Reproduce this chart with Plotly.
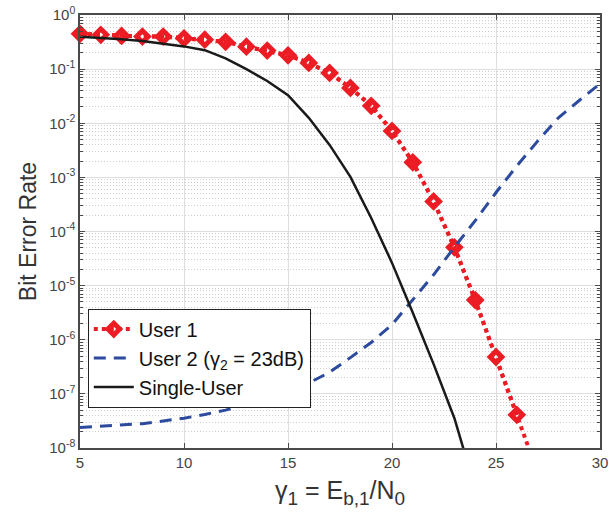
import plotly.graph_objects as go

# ---- data ----
x_user1 = [5, 6, 7, 8, 9, 10, 11, 12, 13, 14, 15, 16, 17, 18, 19, 20, 21, 22, 23, 24, 25, 26, 27]
ber_user1 = [0.45, 0.43, 0.41, 0.40, 0.40, 0.37, 0.35, 0.32, 0.26, 0.22, 0.18, 0.13,
             0.085, 0.045, 0.021, 7.2e-3, 1.9e-3, 3.6e-4, 5.1e-5, 5.4e-6, 4.8e-7, 4.1e-8, 3.5e-9]
n_markers_user1 = 22  # markers at 5..26 dB; the last point only continues the line off-axis

x_user2 = [5, 6, 7, 8, 9, 10, 11, 12, 13, 14, 15, 16, 17, 18, 19, 20, 21, 22, 23, 24, 25, 26, 27, 28, 29, 30]
log_ber_user2 = [-7.62, -7.60, -7.58, -7.55, -7.50, -7.45, -7.38, -7.30, -7.20, -7.08, -6.97, -6.80,
                 -6.60, -6.33, -6.05, -5.72, -5.27, -4.80, -4.29, -3.80, -3.28, -2.79, -2.33,
                 -1.90, -1.58, -1.27]

x_single = [5, 6, 7, 8, 9, 10, 11, 12, 13, 14, 15, 16, 17, 18, 19, 20, 21, 22, 23, 23.5]
log_ber_single = [-0.40, -0.42, -0.45, -0.48, -0.53, -0.58, -0.65, -0.80, -1.00, -1.22, -1.48,
                  -1.90, -2.40, -2.99, -3.75, -4.58, -5.50, -6.45, -7.45, -8.10]

x_ticks = [5, 10, 15, 20, 25, 30]
y_tick_vals = [1, 1e-1, 1e-2, 1e-3, 1e-4, 1e-5, 1e-6, 1e-7, 1e-8]
y_tick_text = ["10<sup>0</sup>", "10<sup>-1</sup>", "10<sup>-2</sup>", "10<sup>-3</sup>",
               "10<sup>-4</sup>", "10<sup>-5</sup>", "10<sup>-6</sup>", "10<sup>-7</sup>",
               "10<sup>-8</sup>"]

ber_user2 = [10 ** v for v in log_ber_user2]
ber_single = [10 ** v for v in log_ber_single]

RED = "#EC1C24"
BLUE = "#2D4B9E"
FONT = "Liberation Sans, Arial, Helvetica, sans-serif"
AX = "#4a4a4a"

fig = go.Figure()

# full dotted line of User 1 (clipped at the axes)
fig.add_trace(go.Scatter(
    x=x_user1, y=ber_user1, mode="lines", showlegend=False, hoverinfo="skip",
    line=dict(color=RED, width=4, dash="dot"),
))
# User 1 with markers (markers not clipped, like MATLAB)
fig.add_trace(go.Scatter(
    x=x_user1[:n_markers_user1], y=ber_user1[:n_markers_user1], mode="lines+markers",
    name="User 1",
    line=dict(color=RED, width=4, dash="dot"),
    marker=dict(symbol="diamond-open", size=9, color=RED, line=dict(color=RED, width=5)),
    cliponaxis=False,
))
fig.add_trace(go.Scatter(
    x=x_user2, y=ber_user2, mode="lines", name="User 2 (γ<sub>2</sub> = 23dB)",
    line=dict(color=BLUE, width=3, dash="12px,8px"),
))
fig.add_trace(go.Scatter(
    x=x_single, y=ber_single, mode="lines", name="Single-User",
    line=dict(color="#1a1a1a", width=2.5),
))

fig.update_layout(
    width=609, height=513,
    margin=dict(l=80, r=9, t=15, b=65, autoexpand=False),
    paper_bgcolor="white", plot_bgcolor="white",
    font=dict(family=FONT, color=AX, size=15),
    showlegend=True,
    legend=dict(
        x=0.015, y=0.322, xanchor="left", yanchor="top",
        bgcolor="white", bordercolor="#222", borderwidth=1,
        font=dict(family=FONT, size=20, color="#111"),
        tracegroupgap=0, itemwidth=40,
    ),
)

x_title = ("γ<sub><span style='font-size:19px'>1</span></sub> = "
           "E<sub><span style='font-size:19px'>b,1</span></sub>/"
           "N<sub><span style='font-size:19px'>0</span></sub>")

fig.update_xaxes(
    range=[5, 30], tickvals=x_ticks, ticks="inside", ticklen=5, tickcolor=AX,
    showline=True, linecolor=AX, linewidth=1.5, mirror="ticks", automargin=False,
    showgrid=True, gridcolor="#dedede", gridwidth=1, zeroline=False,
    tickfont=dict(size=15, color="#444"),
    title=dict(text=x_title, font=dict(size=25, color="#333"), standoff=12),
)
fig.update_yaxes(
    type="log", range=[-8, 0], tickvals=y_tick_vals, ticktext=y_tick_text,
    ticks="inside", ticklen=5, tickcolor=AX, automargin=False,
    showline=True, linecolor=AX, linewidth=1.5, mirror="ticks",
    showgrid=True, gridcolor="#dedede", gridwidth=1, zeroline=False,
    tickfont=dict(size=15, color="#444"),
    minor=dict(dtick="D1", ticks="inside", ticklen=3, tickcolor=AX,
               showgrid=True, gridcolor="#cccccc", griddash="1px,2px", gridwidth=1),
    title=dict(text="Bit Error Rate", font=dict(size=23, color="#333"), standoff=6),
)

fig.write_html("out.html")
